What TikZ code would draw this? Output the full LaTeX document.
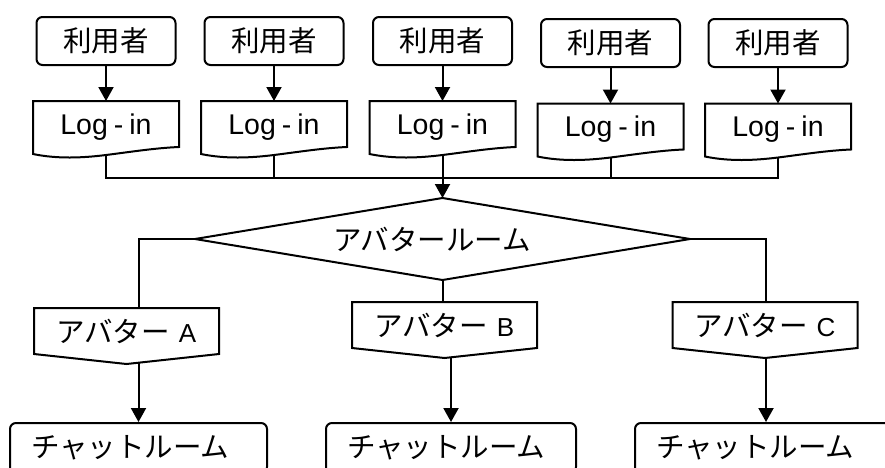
\documentclass[tikz,border=0pt]{standalone}
\usepackage{fontspec}
\setmainfont{Liberation Sans}
\newfontfamily\cjk{Noto Sans CJK JP}
\usetikzlibrary{arrows.meta,calc}
\newcommand\docoutline[1]{\draw (#1.south east) -- (#1.north east) -- (#1.north west) -- ([yshift=-7pt]#1.south west) .. controls ([xshift=24pt,yshift=-12pt]#1.south west) and ([xshift=-24pt,yshift=-11pt]#1.south) .. ([yshift=-8pt]#1.south) .. controls ([xshift=24pt,yshift=-5pt]#1.south) and ([xshift=-24pt,yshift=-1pt]#1.south east) .. (#1.south east) -- cycle;}
\newcommand\avoutline[1]{\draw (#1.north west) -- (#1.north east) -- (#1.south east) -- ([yshift=-10pt]#1.south) -- (#1.south west) -- cycle;}
\newcommand\jp{\cjk\fontsize{28.5}{32}\selectfont}
\begin{document}
\begin{tikzpicture}[x=1pt,y=-1pt, line width=2pt,
  userbox/.style={draw, rounded corners=6pt, minimum width=139pt, minimum height=48pt, inner sep=0pt, font=\jp},
  loginbox/.style={minimum width=144pt, minimum height=44pt, inner sep=0pt, text depth=0pt, font=\fontsize{28.5}{32}\selectfont},
  avbox/.style={minimum width=183pt, minimum height=44pt, inner sep=0pt, font=\fontsize{26}{30}\selectfont},
  chatbox/.style={draw, rounded corners=6pt, minimum height=50pt, inner ysep=0pt, inner xsep=21pt, align=left, font=\jp},
  plain/.style={inner sep=0pt, font=\jp},
  arr/.style={-{Triangle[width=15pt,length=14pt]}},
]
\useasboundingbox (0,0) rectangle (885,467);
% users
\node[userbox] (U1) at (106,41) {利用者};
\node[userbox] (U2) at (274,41) {利用者};
\node[userbox] (U3) at (442.5,41) {利用者};
\node[userbox] (U4) at (610.5,43) {利用者};
\node[userbox] (U5) at (778,43) {利用者};
% log-in
\node[loginbox] (L1) at (106,124) {Log\kern6pt-\kern6pt in};
\node[loginbox] (L2) at (274,124) {Log\kern6pt-\kern6pt in};
\node[loginbox] (L3) at (442.5,124) {Log\kern6pt-\kern6pt in};
\node[loginbox] (L4) at (610.5,126.5) {Log\kern6pt-\kern6pt in};
\node[loginbox] (L5) at (778,126.5) {Log\kern6pt-\kern6pt in};
\docoutline{L1}\docoutline{L2}\docoutline{L3}\docoutline{L4}\docoutline{L5}
\foreach \i in {1,...,5} {\draw[arr] (U\i.south) -- (L\i.north);}
% decision
\coordinate (Dw) at (195,239);
\coordinate (Dn) at (442.5,198);
\coordinate (De) at (690,239);
\coordinate (Ds) at (442.5,280);
\draw (Dw) -- (Dn) -- (De) -- (Ds) -- cycle;
\node[plain] (D) at (432,239) {アバタールーム};
\coordinate (J) at (442.5,177.5);
\draw ([yshift=-8pt]L1.south) |- (J);
\draw ([yshift=-8pt]L2.south) |- (J);
\draw ([yshift=-8pt]L4.south) |- (J);
\draw ([yshift=-8pt]L5.south) |- (J);
\draw[arr] ([yshift=-8pt]L3.south) -- (Dn);
% avatars
\node[avbox] (A) at (126.5,331) {{\jp アバター}\hspace{9pt}A};
\node[avbox] (B) at (444.5,325) {{\jp アバター}\hspace{9pt}B};
\node[avbox] (C) at (765,325) {{\jp アバター}\hspace{9pt}C};
\avoutline{A}\avoutline{B}\avoutline{C}
% chat rooms
\node[chatbox, text width=215pt] (R1) at (138.5,448) {チャットルーム};
\node[chatbox, text width=208pt] (R2) at (451,448) {チャットルーム};
\node[chatbox, text width=220pt] (R3) at (766,448) {チャットルーム};
% branches
\draw (Dw) -| (A.north -| R1.north);
\draw (Ds) -- (Ds |- B.north);
\draw (De) -| (C.north -| R3.north);
\draw[arr] ($(A.south -| R1.north)+(0,8.6)$) -- (R1.north);
\draw[arr] ($(B.south -| R2.north)+(0,9.3)$) -- (R2.north);
\draw[arr] ($(C.south -| R3.north)+(0,9.9)$) -- (R3.north);
\end{tikzpicture}
\end{document}
